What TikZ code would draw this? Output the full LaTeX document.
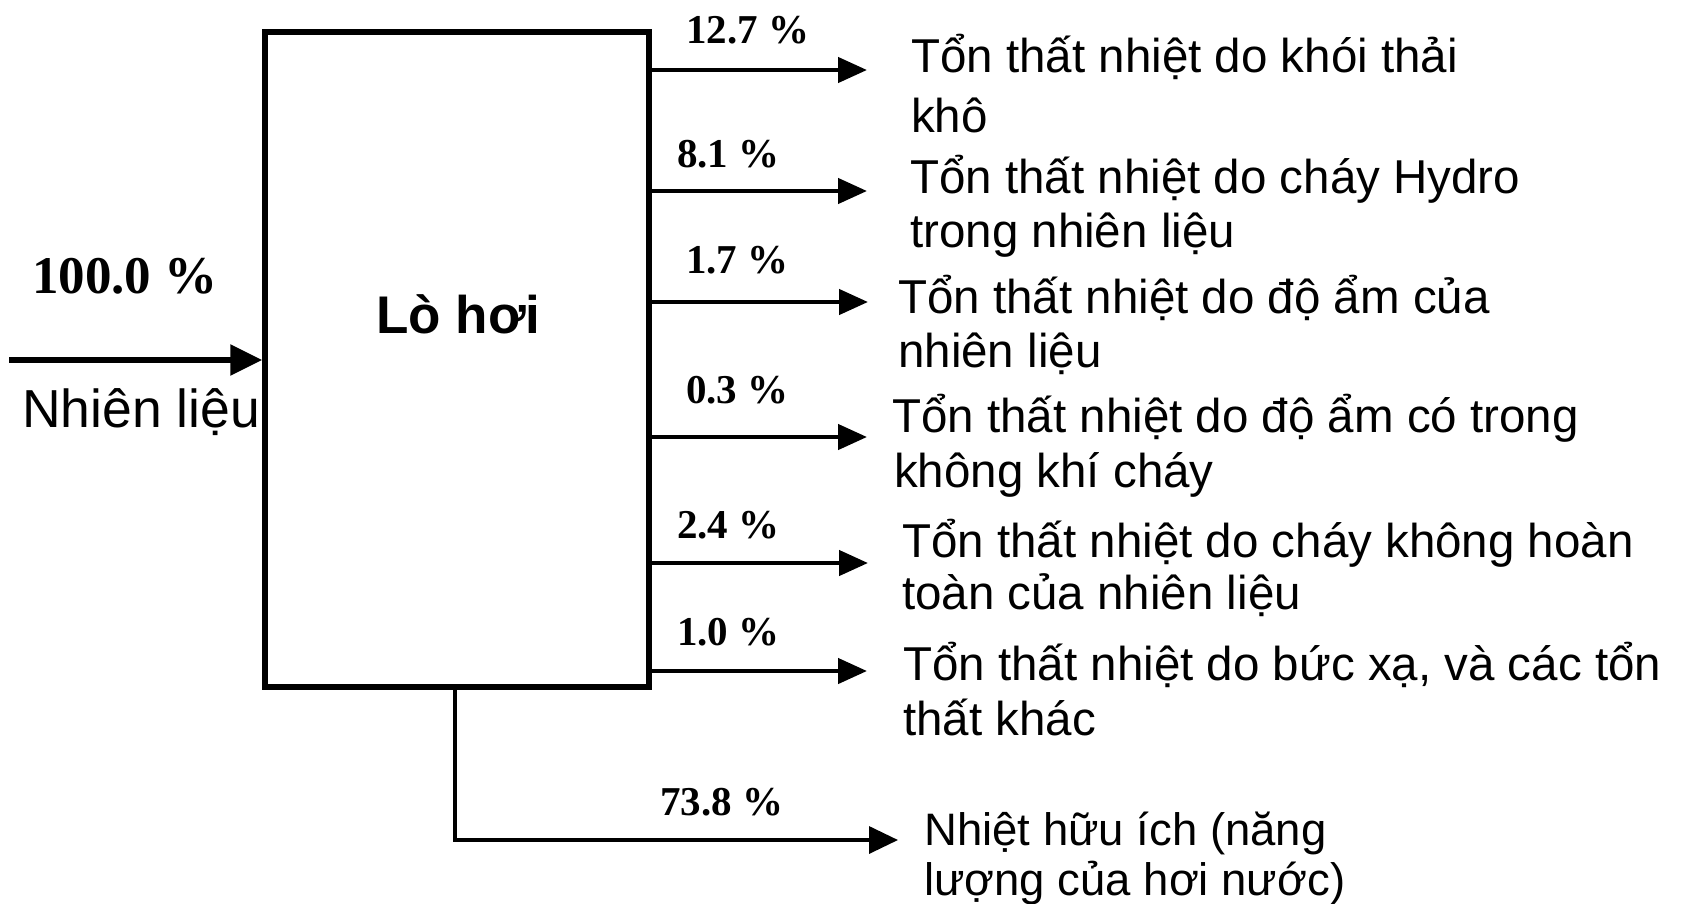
\documentclass[tikz,border=0pt]{standalone}
\usepackage{fontspec}
\setmainfont{Liberation Sans}
\newfontfamily\numfont{Liberation Serif}
\usetikzlibrary{arrows.meta}

\tikzset{
  txt/.style={anchor=base west, inner sep=0pt, font=\fontsize{47.5}{55}\selectfont},
  pct/.style={anchor=base west, inner sep=0pt, font=\numfont\bfseries\fontsize{41}{45}\selectfont},
  flow/.style={line width=4.5pt, -{Triangle[length=29pt,width=25pt]}},
  inflow/.style={line width=5.5pt, -{Triangle[length=32pt,width=30pt]}},
  useful/.style={line width=3.5pt, -{Triangle[length=29pt,width=27pt]}},
}

\begin{document}
\begin{tikzpicture}[x=1pt,y=-1pt]
\useasboundingbox (0,0) rectangle (1683,903);

% boiler
\node[draw, line width=5.5pt, minimum width=384pt, minimum height=655pt, inner sep=0pt] (box) at (457,359.5) {};
\node[anchor=base west, inner sep=0pt, font=\bfseries\fontsize{53}{60}\selectfont] (lo) at (376,333) {Lò hơi};

% fuel input
\coordinate (src) at (9,360);
\draw[inflow] (src) -- (box.west |- src);
\node[anchor=base west, inner sep=0pt, font=\numfont\bfseries\fontsize{53}{60}\selectfont] (pin) at (32,293) {100.0 \%};
\node[anchor=base west, inner sep=0pt, font=\fontsize{53.5}{60}\selectfont] (fuel) at (22,427) {Nhiên liệu};

% loss outputs
\coordinate (e1) at (867,70);
\coordinate (e2) at (867,191);
\coordinate (e3) at (868,302);
\coordinate (e4) at (867,437);
\coordinate (e5) at (868,563);
\coordinate (e6) at (867,671);
\foreach \e in {e1,e2,e3,e4,e5,e6}
  \draw[flow] (box.east |- \e) -- (\e);

\node[pct] (p1) at (686,43) {12.7 \%};
\node[pct] (p2) at (677,167) {8.1 \%};
\node[pct] (p3) at (686,273) {1.7 \%};
\node[pct] (p4) at (686,403) {0.3 \%};
\node[pct] (p5) at (677,538) {2.4 \%};
\node[pct] (p6) at (677,645) {1.0 \%};

\node[txt] (t1a) at (911,72) {Tổn thất nhiệt do khói thải};
\node[txt] (t1b) at (911,132) {khô};
\node[txt] (t2a) at (910,193) {Tổn thất nhiệt do cháy Hydro};
\node[txt] (t2b) at (910,247) {trong nhiên liệu};
\node[txt] (t3a) at (898,313) {Tổn thất nhiệt do độ ẩm của};
\node[txt] (t3b) at (898,367) {nhiên liệu};
\node[txt] (t4a) at (892,432) {Tổn thất nhiệt do độ ẩm có trong};
\node[txt] (t4b) at (894,487) {không khí cháy};
\node[txt] (t5a) at (902,557) {Tổn thất nhiệt do cháy không hoàn};
\node[txt] (t5b) at (902,609) {toàn của nhiên liệu};
\node[txt] (t6a) at (903,680) {Tổn thất nhiệt do bức xạ, và các tổn};
\node[txt] (t6b) at (903,735) {thất khác};

% useful heat
\coordinate (e7) at (898,840);
\draw[useful] ([xshift=-2pt]box.south) |- (e7);
\node[pct] (p7) at (660,815) {73.8 \%};
\node[txt, font=\fontsize{45.5}{52}\selectfont] (t7a) at (924,845) {Nhiệt hữu ích (năng};
\node[txt, font=\fontsize{45.5}{52}\selectfont] (t7b) at (924,895) {lượng của hơi nước)};
\end{tikzpicture}
\end{document}
